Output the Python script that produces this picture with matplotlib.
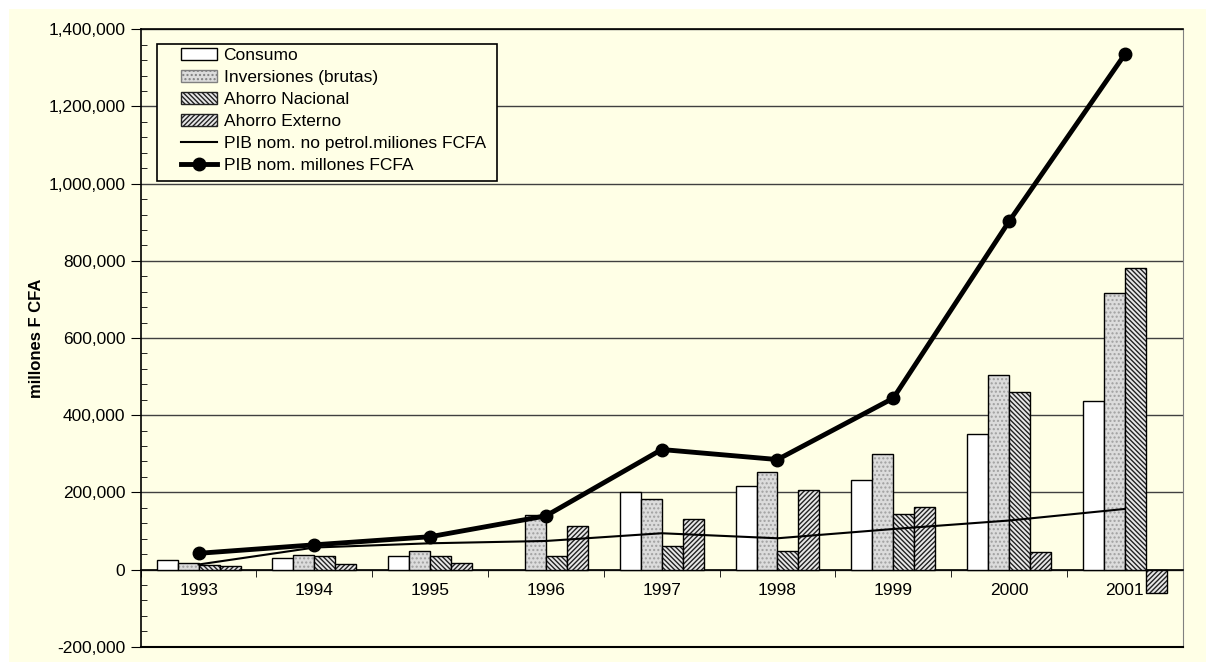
import numpy as np
import matplotlib
matplotlib.use("Agg")
import matplotlib.pyplot as plt
from matplotlib.patches import Rectangle, Patch
from matplotlib.lines import Line2D
from matplotlib.ticker import FuncFormatter, MultipleLocator

plt.rcParams['font.family'] = ['Liberation Sans', 'DejaVu Sans']
plt.rcParams['hatch.linewidth'] = 1.0

years = ['1993', '1994', '1995', '1996', '1997', '1998', '1999', '2000', '2001']
consumo = [25000, 31000, 35000, np.nan, 201000, 217000, 233000, 351000, 436000]
inversiones = [18000, 37000, 47000, 141000, 184000, 252000, 299000, 503000, 717000]
ahorro_nac = [13000, 34000, 35000, 35000, 61000, 47000, 145000, 461000, 782000]
ahorro_ext = [8000, 14000, 16000, 113000, 131000, 207000, 162000, 46000, -60000]
pib_no_petrol = [13000, 57000, 68000, 74000, 94000, 81000, 105000, 127000, 157000]
pib = [42000, 64000, 85000, 139000, 311000, 285000, 444000, 902000, 1335000]

cream = '#FFFFE6'
hatch_nac = '\\\\\\\\\\\\\\'
hatch_ext = '///////'
fs = 12.5

fig = plt.figure(figsize=(12.06, 6.62), dpi=100, facecolor='white')
fig.patches.append(Rectangle((9 / 1206, 0), 1, 1 - 9 / 662, transform=fig.transFigure,
                             facecolor=cream, edgecolor='none', zorder=-10))
ax = fig.add_axes([140.7 / 1206, 1 - 646.7 / 662, 1042 / 1206, (646.7 - 29.3) / 662])
ax.set_facecolor(cream)

x = np.arange(len(years))
w = 0.181

# bars: fill/hatch layer first, then black outline layer
ax.bar(x - 1.5 * w, consumo, w, facecolor='white', edgecolor='black', linewidth=1, zorder=3)
ax.bar(x - 0.5 * w, inversiones, w, facecolor='#dcdcdc', edgecolor='#a0a0a0', hatch='....',
       linewidth=0, zorder=3)
ax.bar(x - 0.5 * w, inversiones, w, facecolor='none', edgecolor='black', linewidth=1, zorder=3)
ax.bar(x + 0.5 * w, ahorro_nac, w, facecolor='#e8e8e8', edgecolor='#222222', hatch=hatch_nac,
       linewidth=0, zorder=3)
ax.bar(x + 0.5 * w, ahorro_nac, w, facecolor='none', edgecolor='black', linewidth=1, zorder=3)
ax.bar(x + 1.5 * w, ahorro_ext, w, facecolor='#e8e8e8', edgecolor='#222222', hatch=hatch_ext,
       linewidth=0, zorder=3)
ax.bar(x + 1.5 * w, ahorro_ext, w, facecolor='none', edgecolor='black', linewidth=1, zorder=3)

ax.plot(x, pib_no_petrol, color='black', linewidth=1.5, zorder=4)
ax.plot(x, pib, color='black', linewidth=3.5, marker='o', markersize=9, zorder=5)

ax.set_xlim(-0.5, 8.5)
ax.set_ylim(-200000, 1400000)
ax.yaxis.set_major_locator(MultipleLocator(200000))
ax.yaxis.set_minor_locator(MultipleLocator(40000))
ax.yaxis.set_major_formatter(FuncFormatter(lambda v, p: f'{int(v):,}'))
ax.grid(axis='y', color='#404040', linewidth=1, zorder=1)
ax.set_axisbelow(True)
ax.tick_params(axis='y', which='major', direction='out', length=7, labelsize=fs, pad=4)
ax.tick_params(axis='y', which='minor', direction='in', length=4)

ax.spines['bottom'].set_position(('data', 0))
ax.set_xticks(x)
ax.set_xticklabels(years)
ax.set_xticks(np.arange(-0.5, 9, 1), minor=True)
ax.tick_params(axis='x', which='major', length=0, labelsize=fs, pad=10)
ax.tick_params(axis='x', which='minor', direction='out', length=5)
ax.axhline(-200000, color='black', linewidth=1.5, clip_on=False, zorder=6)
for s in ['left', 'top', 'bottom']:
    ax.spines[s].set_linewidth(1.2)
ax.spines['right'].set_color('#808080')

ax.set_ylabel('millones F CFA', fontsize=12, fontweight='bold', labelpad=3)

handles = [
    Patch(facecolor='white', edgecolor='black', label='Consumo'),
    Patch(facecolor='#dcdcdc', edgecolor='#808080', hatch='....', label='Inversiones (brutas)'),
    Patch(facecolor='#e8e8e8', edgecolor='#222222', hatch=hatch_nac, label='Ahorro Nacional'),
    Patch(facecolor='#e8e8e8', edgecolor='#222222', hatch=hatch_ext, label='Ahorro Externo'),
    Line2D([], [], color='black', linewidth=1.5, label='PIB nom. no petrol.miliones FCFA'),
    Line2D([], [], color='black', linewidth=3.5, marker='o', markersize=9,
           label='PIB nom. millones FCFA'),
]
leg = ax.legend(handles=handles, loc='upper left', bbox_to_anchor=(181 / 1206, 1 - 48 / 662),
                bbox_transform=fig.transFigure, fontsize=fs, frameon=False,
                handlelength=2.1, labelspacing=0.39, borderpad=0, handletextpad=0.35,
                borderaxespad=0)
leg.set_zorder(10)
ax.add_patch(Rectangle((157 / 1206, 1 - 181 / 662), 340 / 1206, 137 / 662, transform=fig.transFigure,
                       facecolor=cream, edgecolor='black', linewidth=1.2, zorder=9, clip_on=False))

fig.savefig('out.png', dpi=100, facecolor=fig.get_facecolor())
